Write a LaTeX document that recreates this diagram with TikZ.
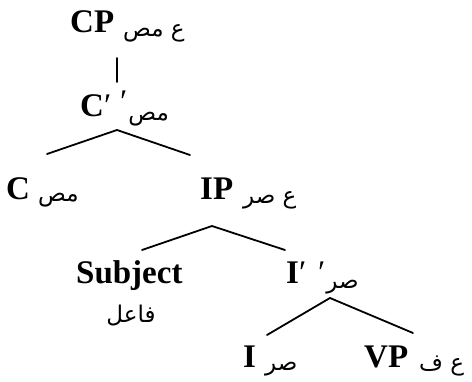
\documentclass[tikz,border=0pt]{standalone}
\usepackage{fontspec}
\setmainfont{Liberation Serif}
\newfontfamily\arabicfont[Script=Arabic]{DejaVu Sans}
\TeXXeTstate=1
\newcommand{\latprime}[1]{{\rmfamily\mdseries\fontsize{33}{33}\selectfont\raisebox{#1}{′}}}
\begin{document}
\begin{tikzpicture}[x=1pt,y=-1pt,
  lab/.style={font=\fontsize{33}{33}\selectfont\bfseries, inner sep=0pt, anchor=base west},
  ar/.style={font=\fontsize{23}{23}\selectfont\arabicfont, inner sep=0pt, anchor=base west},
  br/.style={line width=1.8pt, line cap=round}]
\useasboundingbox (0,0) rectangle (472,382);
% row 1
\node[lab] (CP) at (70,33) {CP};
\node[ar] (CPa) at (123,37) {\beginR ع مص\endR};
% row 2
\node[lab] (Cbar) at (80,117) {C\latprime{0pt}};
\node[ar] (Cbara) at (120,121) {\latprime{8pt}\kern1pt\beginR مص\endR};
% row 3
\node[lab] (C) at (6,200) {C};
\node[ar] (Ca) at (38,202) {\beginR مص\endR};
\node[lab] (IP) at (200,200) {IP};
\node[ar] (IPa) at (243,204) {\beginR ع صر\endR};
% row 4
\node[lab] (Subj) at (76,284) {Subject};
\node[ar, anchor=base] (Subja) at (131,323) {\beginR فاعل\endR};
\node[lab] (Ibar) at (286,284) {I\latprime{0pt}};
\node[ar] (Ibara) at (318,289) {\latprime{5pt}\kern1pt\beginR صر\endR};
% row 5
\node[lab] (I) at (243,368) {I};
\node[ar] (Ia) at (265,371) {\beginR صر\endR};
\node[lab] (VP) at (364,368) {VP};
\node[ar] (VPa) at (419,371) {\beginR ع ف\endR};
% branch points
\coordinate (cpB) at (117,58);
\coordinate (cbT) at (117,82);
\coordinate (cbB) at (117,130);
\coordinate (cT) at (47,154);
\coordinate (ipT) at (190,155);
\coordinate (ipB) at (212,226);
\coordinate (sT) at (142,250);
\coordinate (ibT) at (285,250);
\coordinate (ibB) at (330,298);
\coordinate (iT) at (267,335);
\coordinate (vpT) at (413,333);
\draw[br] (cpB) -- (cbT);
\draw[br] (cT) -- (cbB) -- (ipT);
\draw[br] (sT) -- (ipB) -- (ibT);
\draw[br] (iT) -- (ibB) -- (vpT);
\end{tikzpicture}
\end{document}
